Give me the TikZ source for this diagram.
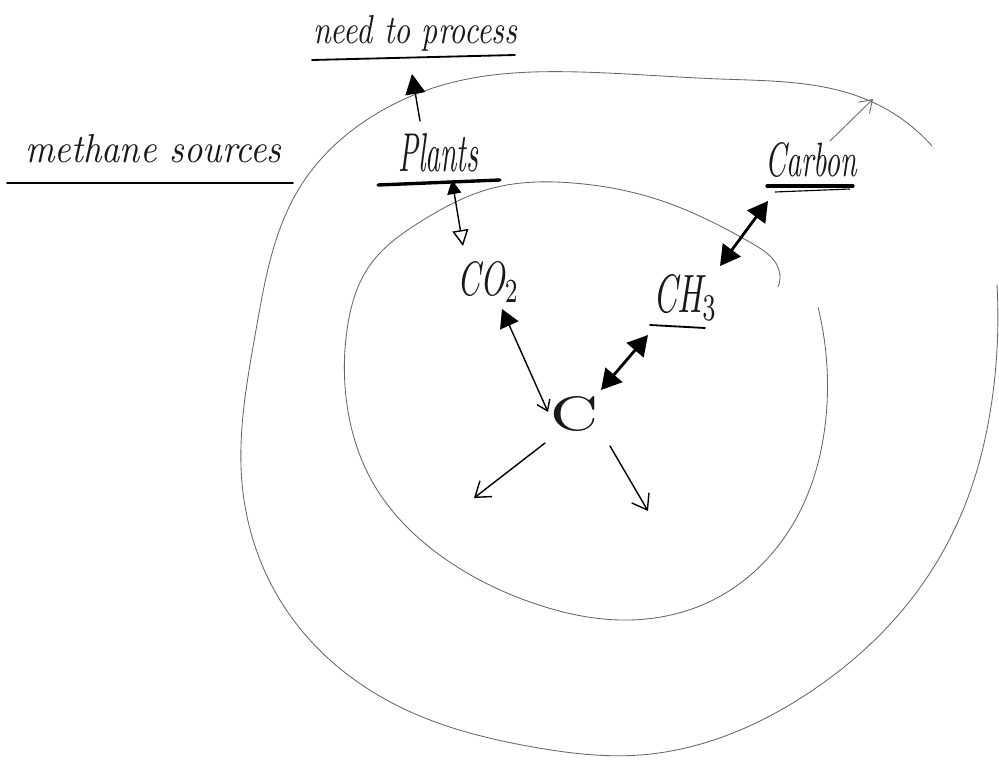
\documentclass[tikz,border=0pt]{standalone}
\usepackage{graphicx}
\usetikzlibrary{arrows.meta,hobby}
\newcommand{\handtxt}[3]{\resizebox{#1}{#2}{\itshape #3}}
\tikzset{
  ring/.style={draw=black!60, line width=0.6pt, line cap=round},
  lbl/.style={inner sep=0pt, text=black!90, anchor=base west},
  uline/.style={line width=1.3pt, line cap=round},
  thickuline/.style={line width=2.4pt, line cap=round},
  link/.style={line width=1pt, line cap=round},
  heavylink/.style={line width=2pt,
    {Triangle[length=0.5cm,width=0.55cm]}-{Triangle[length=0.5cm,width=0.55cm]}},
  barb/.style={-{Straight Barb[length=0.35cm,width=0.5cm,line width=1pt]}}
}
\begin{document}
\begin{tikzpicture}[x=0.025cm,y=-0.025cm]
\useasboundingbox (0,0) rectangle (999,768);
\fill[white] (0,0) rectangle (999,768);

% outer ring (open loop)
\draw[ring, use Hobby shortcut] (932,146) .. (870,101) .. (720,79) .. (580,72)
  .. (450,83) .. (368,119) .. (300,187) .. (256,330) .. (242,483) .. (285,608)
  .. (400,707) .. (533,747) .. (640,755) .. (813,690) .. (913,597) .. (967,500)
  .. (992,400) .. (997,285);

% inner ring (open loop)
\draw[ring, use Hobby shortcut] (778,287) .. (779,270) .. (753,244) .. (653,198)
  .. (573,183) .. (493,188) .. (420,222) .. (370,265) .. (347,330) .. (347,405)
  .. (373,483) .. (433,550) .. (533,603) .. (620,620) .. (713,600) .. (797,517)
  .. (826,417) .. (818,307);

% labels
\node[lbl] (need)    at (313,44)  {\handtxt{5.1cm}{0.7cm}{need to process}};
\node[lbl] (methane) at (25,163)  {\handtxt{6.4cm}{0.7cm}{methane sources}};
\node[lbl] (plants)  at (398,172) {\handtxt{2cm}{0.95cm}{Plants}};
\node[lbl] (co2)     at (457,295) {\handtxt{1.55cm}{0.85cm}{CO$_2$}};
\node[lbl] (ch3)     at (653,312) {\handtxt{1.6cm}{0.95cm}{CH$_3$}};
\node[lbl] (carbon)  at (765,177) {\handtxt{2.3cm}{0.85cm}{Carbon}};
\node[lbl] (c)       at (550,430) {\resizebox{1.2cm}{0.85cm}{C}};

% underlines
\draw[uline] (312,60) -- (515,55);
\draw[uline] (7,183) -- (293,183);
\draw[thickuline] (378,185) -- (500,180);
\draw[uline] (650,325) -- (705,328);
\draw[thickuline] (767,186) -- (853,186);
\draw[line width=0.8pt] (775,192) -- (850,189);

% connector end points
\coordinate (needtip) at (412,74);
\coordinate (plantsup) at (420,121);
\coordinate (plantsdn) at (452,180);
\coordinate (co2up) at (463,246);
\coordinate (co2dn) at (502,309);
\coordinate (cnw) at (548,412);
\coordinate (cne) at (601,390);
\coordinate (ch3dn) at (648,335);
\coordinate (ch3up) at (720,266);
\coordinate (carbondn) at (768,201);
\coordinate (cdl) at (545,443);
\coordinate (cdlend) at (474,498);
\coordinate (cdr) at (610,446);
\coordinate (cdrend) at (648,511);
\coordinate (topfrom) at (830,141);
\coordinate (topto) at (873,99);

% connectors
\draw[link, -{Triangle[length=0.5cm,width=0.5cm]}] (plantsup) -- (needtip);
\draw[link, {Triangle[length=0.35cm,width=0.35cm]}-{Triangle[open,length=0.4cm,width=0.4cm,line width=1pt]}] (plantsdn) -- (co2up);
\draw[link, {Triangle[length=0.45cm,width=0.5cm]}-{Straight Barb[length=0.25cm,width=0.35cm,line width=1pt]}] (co2dn) -- (cnw);
\draw[heavylink] (ch3dn) -- (cne);
\draw[heavylink] (carbondn) -- (ch3up);
\draw[link, barb] (cdl) -- (cdlend);
\draw[link, barb] (cdr) -- (cdrend);
\draw[ring, -{Straight Barb[length=0.3cm,width=0.4cm,line width=0.6pt]}] (topfrom) -- (topto);
\end{tikzpicture}
\end{document}
